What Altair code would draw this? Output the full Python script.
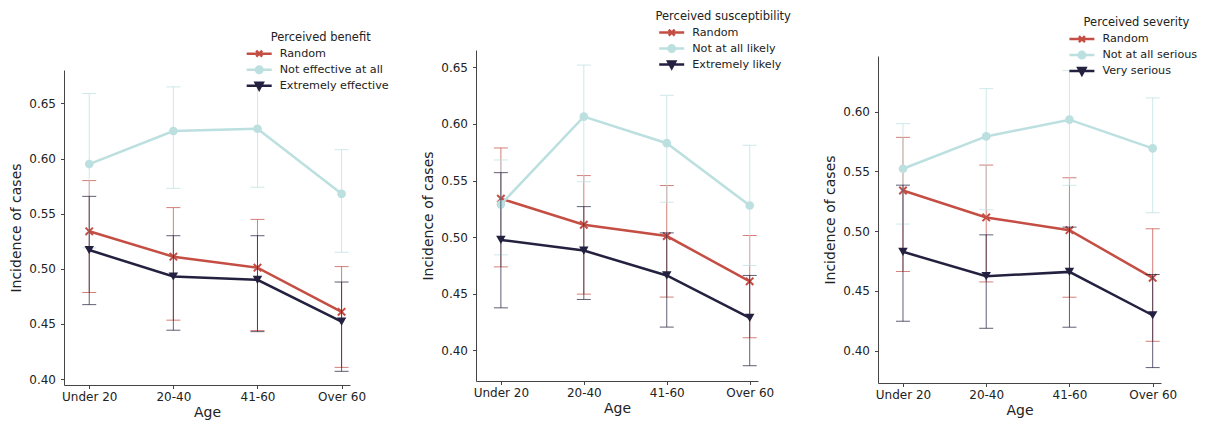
import json
import altair as alt
import pandas as pd

# ---------------- data ----------------
AGES = ["Under 20", "20-40", "41-60", "Over 60"]
AGE_INDEX = [0, 1, 2, 3]
COLORS = ["#c44e44", "#bcdfe0", "#23213f"]

P1_TITLE = "Perceived benefit"
P1_NAMES = ["Random", "Not effective at all", "Extremely effective"]
P1_RANDOM_MEAN = [0.534, 0.511, 0.501, 0.461]
P1_RANDOM_LO = [0.4785, 0.4534, 0.4440, 0.4106]
P1_RANDOM_HI = [0.5800, 0.5555, 0.5448, 0.5020]
P1_LOW_MEAN = [0.595, 0.625, 0.627, 0.568]
P1_LOW_LO = [0.519, 0.573, 0.574, 0.515]
P1_LOW_HI = [0.659, 0.665, 0.666, 0.608]
P1_HIGH_MEAN = [0.517, 0.493, 0.490, 0.452]
P1_HIGH_LO = [0.4675, 0.4443, 0.4430, 0.4070]
P1_HIGH_HI = [0.5657, 0.5300, 0.5300, 0.4880]
P1_YTICKS = [0.40, 0.45, 0.50, 0.55, 0.60, 0.65]
P1_YDOMAIN = [0.3946, 0.6803]

P2_TITLE = "Perceived susceptibility"
P2_NAMES = ["Random", "Not at all likely", "Extremely likely"]
P2_RANDOM_MEAN = [0.534, 0.511, 0.501, 0.461]
P2_RANDOM_LO = [0.4738, 0.4497, 0.4471, 0.4112]
P2_RANDOM_HI = [0.5788, 0.5544, 0.5456, 0.5015]
P2_LOW_MEAN = [0.529, 0.6065, 0.583, 0.528]
P2_LOW_LO = [0.4844, 0.549, 0.5309, 0.475]
P2_LOW_HI = [0.5682, 0.652, 0.6253, 0.5812]
P2_HIGH_MEAN = [0.4976, 0.4882, 0.4662, 0.4288]
P2_HIGH_LO = [0.4376, 0.445, 0.4206, 0.3865]
P2_HIGH_HI = [0.557, 0.527, 0.5038, 0.4662]
P2_YTICKS = [0.40, 0.45, 0.50, 0.55, 0.60, 0.65]
P2_YDOMAIN = [0.373, 0.6653]

P3_TITLE = "Perceived severity"
P3_NAMES = ["Random", "Not at all serious", "Very serious"]
P3_RANDOM_MEAN = [0.534, 0.5115, 0.5008, 0.4609]
P3_RANDOM_LO = [0.4662, 0.4575, 0.4447, 0.4078]
P3_RANDOM_HI = [0.5785, 0.5553, 0.5447, 0.502]
P3_LOW_MEAN = [0.5522, 0.5793, 0.5933, 0.5693]
P3_LOW_LO = [0.5059, 0.5179, 0.5383, 0.5154]
P3_LOW_HI = [0.590, 0.6193, 0.6344, 0.6115]
P3_HIGH_MEAN = [0.4827, 0.4623, 0.4659, 0.4296]
P3_HIGH_LO = [0.4246, 0.4187, 0.4196, 0.3858]
P3_HIGH_HI = [0.5385, 0.4969, 0.5034, 0.4637]
P3_YTICKS = [0.40, 0.45, 0.50, 0.55, 0.60]
P3_YDOMAIN = [0.3729, 0.6466]

# ---------------- styles ----------------
FONT = "DejaVu Sans"
MARKER_SHAPES = ["M-1,-1L1,1M-1,1L1,-1", "circle", "triangle-down"]
MARKER_FILLED = [False, True, True]
MARKER_SIZES = [55, 75, 90]
LEGEND_PATHS = [
    "M-2.5,0L2.5,0M-0.6,-0.6L0.6,0.6M-0.6,0.6L0.6,-0.6",
    "M-2.5,0L2.5,0M0.65,0A0.65,0.65 0 1,1 -0.65,0A0.65,0.65 0 1,1 0.65,0Z"
    "M0.2,0A0.2,0.2 0 1,1 -0.2,0A0.2,0.2 0 1,1 0.2,0Z",
    "M-2.5,0L2.5,0M-0.72,-0.6L0.72,-0.6L0,0.72Z"
    "M-0.32,-0.36L0.32,-0.36L0,0.24Z",
]
LABEL_EXPR = json.dumps(AGES) + "[datum.value]"


def panel(title, names, series, ydom, yticks, w, h, lx, ly):
    frames = []
    for name, (m, lo, hi) in zip(names, series):
        frames.append(pd.DataFrame({"series": name, "xi": AGE_INDEX, "age": AGES,
                                    "mean": m, "lo": lo, "hi": hi}))
    df = pd.concat(frames, ignore_index=True)

    xenc = alt.X("xi:Q", scale=alt.Scale(domain=[-0.3, 3.1], nice=False, zero=False),
                 axis=alt.Axis(values=AGE_INDEX, labelExpr=LABEL_EXPR, title="Age",
                               grid=False, labelFlush=False))
    yscale = alt.Scale(domain=ydom, nice=False, zero=False)
    yaxis = alt.Axis(values=yticks, format=".2f", title="Incidence of cases",
                     grid=False, labelFlush=False)
    cscale = alt.Scale(domain=names, range=COLORS)
    col = alt.Color("series:N", scale=cscale, legend=None)

    layers = []
    for k, name in enumerate(names):
        b = alt.Chart(df[df.series == name])
        layers.append(b.mark_rule(strokeWidth=1, opacity=0.72).encode(
            x=xenc, y=alt.Y("lo:Q", scale=yscale, axis=yaxis), y2="hi:Q", color=col))
        for f in ("lo", "hi"):
            layers.append(b.mark_tick(orient="horizontal", size=14, thickness=1, opacity=0.72).encode(
                x=xenc, y=alt.Y(f + ":Q", scale=yscale, axis=yaxis), color=col))
        layers.append(b.mark_line(strokeWidth=2.5).encode(
            x=xenc, y=alt.Y("mean:Q", scale=yscale, axis=yaxis), color=col))
        layers.append(b.mark_point(shape=MARKER_SHAPES[k], filled=MARKER_FILLED[k],
                                   size=MARKER_SIZES[k], strokeWidth=2, opacity=1).encode(
            x=xenc, y=alt.Y("mean:Q", scale=yscale, axis=yaxis), color=col))

    legend = alt.Legend(title=title, orient="none", legendX=lx, legendY=ly,
                        titleFontWeight="normal", titleFontSize=11.5, titleFont=FONT)
    layers.append(alt.Chart(df).mark_point(filled=False, opacity=0, size=100, strokeWidth=2.5).encode(
        x=xenc, y=alt.Y("mean:Q", scale=yscale, axis=yaxis),
        color=alt.Color("series:N", scale=cscale, legend=legend),
        shape=alt.Shape("series:N", scale=alt.Scale(domain=names, range=LEGEND_PATHS), legend=legend)))

    return (alt.layer(*layers).properties(width=w, height=h)
            .resolve_scale(color="independent", shape="independent")
            .resolve_legend(color="independent", shape="independent"))


def spacer(h):
    return alt.Chart(pd.DataFrame({"v": [0]})).mark_point(opacity=0).properties(width=1, height=h)


p1 = panel(P1_TITLE, P1_NAMES,
           [(P1_RANDOM_MEAN, P1_RANDOM_LO, P1_RANDOM_HI),
            (P1_LOW_MEAN, P1_LOW_LO, P1_LOW_HI),
            (P1_HIGH_MEAN, P1_HIGH_LO, P1_HIGH_HI)],
           P1_YDOMAIN, P1_YTICKS, 286, 315, 188.7, -38.3)
p2 = panel(P2_TITLE, P2_NAMES,
           [(P2_RANDOM_MEAN, P2_RANDOM_LO, P2_RANDOM_HI),
            (P2_LOW_MEAN, P2_LOW_LO, P2_LOW_HI),
            (P2_HIGH_MEAN, P2_HIGH_LO, P2_HIGH_HI)],
           P2_YDOMAIN, P2_YTICKS, 282, 331, 179.2, -39.4)
p3 = panel(P3_TITLE, P3_NAMES,
           [(P3_RANDOM_MEAN, P3_RANDOM_LO, P3_RANDOM_HI),
            (P3_LOW_MEAN, P3_LOW_LO, P3_LOW_HI),
            (P3_HIGH_MEAN, P3_HIGH_LO, P3_HIGH_HI)],
           P3_YDOMAIN, P3_YTICKS, 283, 327, 197.4, -38.9)

chart = (
    alt.hconcat(
        alt.vconcat(spacer(26.3), p1, spacing=0),
        alt.vconcat(spacer(4.6), p2, spacing=0),
        alt.vconcat(spacer(12.9), p3, spacing=0),
        spacing=31,
    )
    .resolve_scale(color="independent", shape="independent")
    .resolve_legend(color="independent", shape="independent")
    .properties(padding={"left": 1, "top": -5, "right": 0, "bottom": 0})
    .configure_view(stroke=None)
    .configure_axis(labelFont=FONT, titleFont=FONT, labelFontSize=12, titleFontSize=14,
                    titleFontWeight="normal", domainColor="#444", tickColor="#444",
                    tickSize=3.5, labelColor="#222", titleColor="#222")
    .configure_axisX(labelPadding=3, titlePadding=3)
    .configure_axisY(labelPadding=5, titlePadding=5)
    .configure_legend(labelFont=FONT, titleFont=FONT, labelFontSize=11.2, titleFontSize=11.5,
                      titleFontWeight="normal", titleAnchor="middle", titleColor="#222",
                      labelColor="#222", symbolOpacity=1, symbolSize=100,
                      symbolStrokeWidth=2.5, labelOffset=14, rowPadding=-1, padding=0,
                      titlePadding=4)
)

chart.save("out.html", embed_options={"renderer": "svg", "actions": False})
